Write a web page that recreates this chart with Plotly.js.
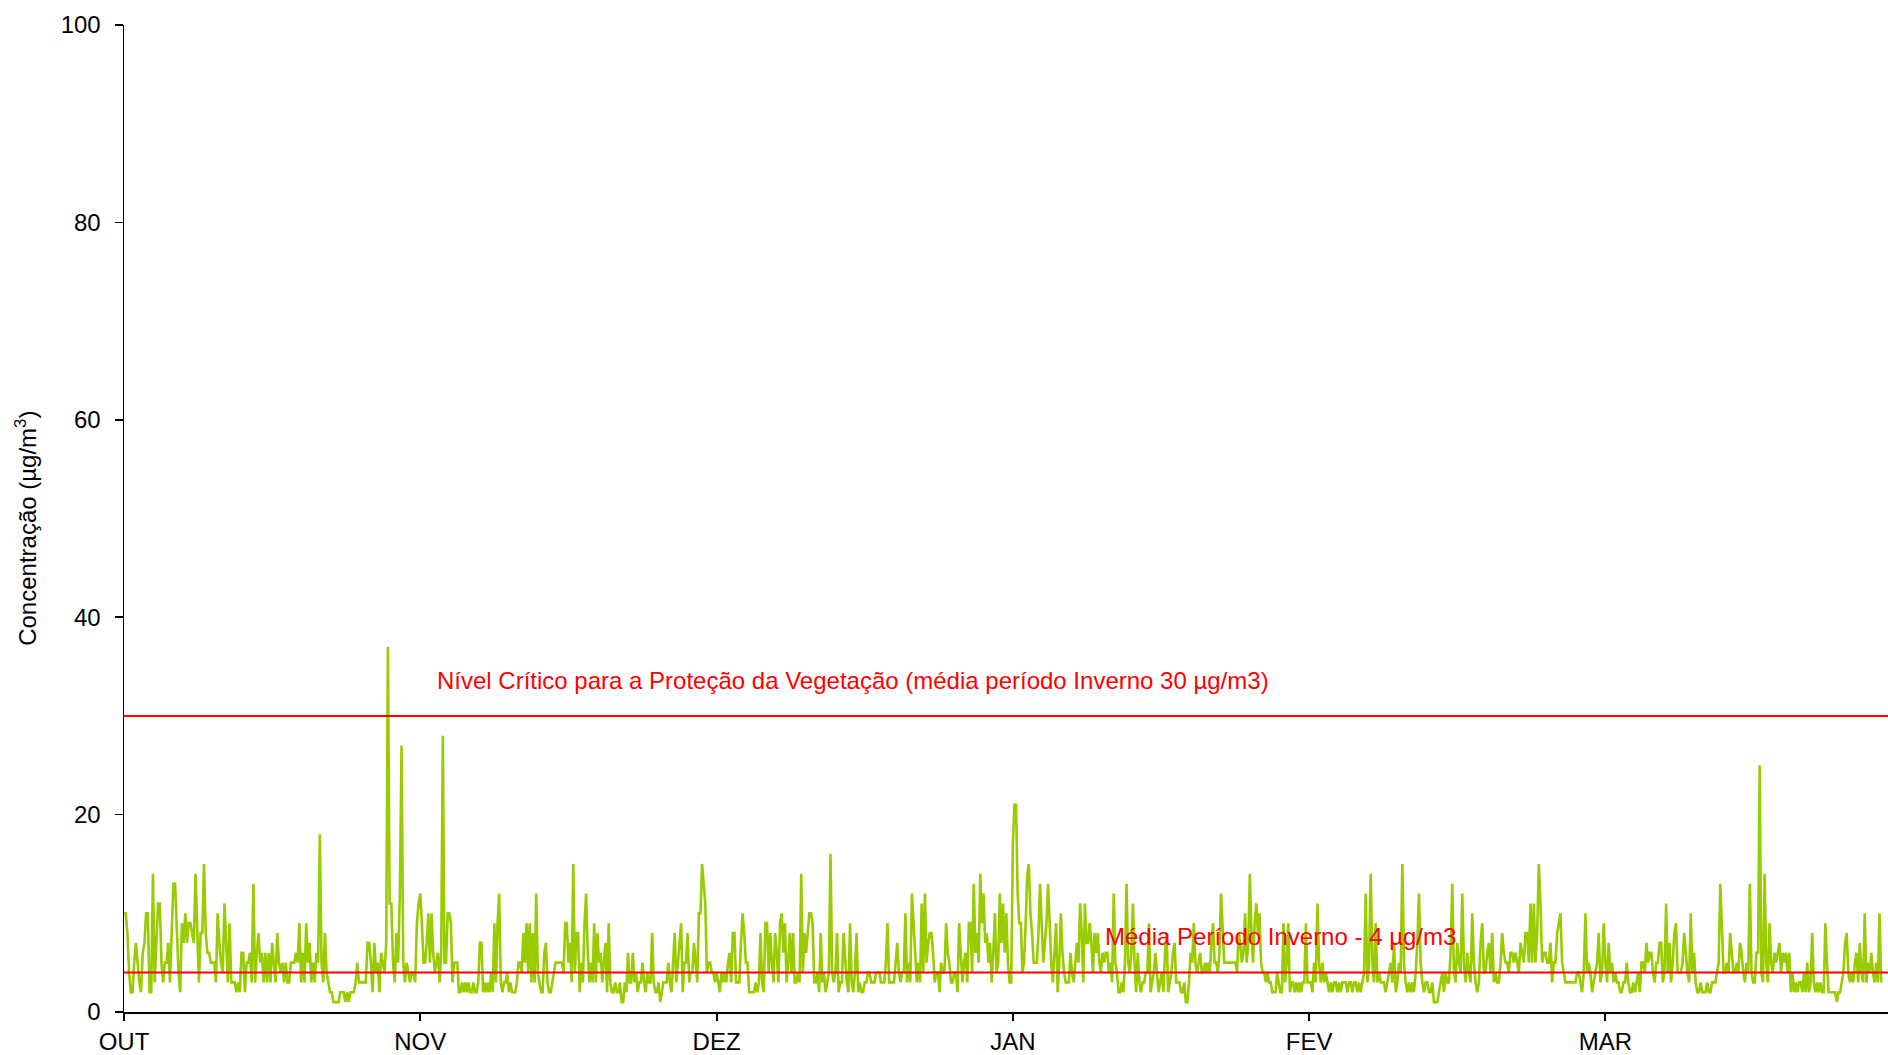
<!DOCTYPE html>
<html>
<head>
<meta charset="utf-8">
<script src="https://cdn.plot.ly/plotly-3.0.1.min.js"></script>
<style>html,body{margin:0;padding:0;background:#fff}#chart{width:1888px;height:1055px}</style>
</head>
<body>
<div id="chart"></div>
<script>
// Tick labels (months of the winter period)
const monthLabels = ['OUT', 'NOV', 'DEZ', 'JAN', 'FEV', 'MAR'];

// Concentration readings (µg/m3), one array per month
const valuesOut = [10,10,8,4,2,2,5,7,5,3,2,6,7,10,10,2,2,14,3,8,11,11,5,3,5,5,7,3,8,13,13,8,4,2,9,7,10,7,9,9,8,7,14,7,3,8,8,15,8,6,6,5,5,5,3,10,7,5,4,11,7,3,9,3,3,3,2,3,2,6,6,2,5,5,6,3,13,3,6,8,5,6,3,6,3,6,3,7,5,3,8,5,4,5,3,5,3,3,5,5,5,6,5,9,3,6,3,9,5,7,3,5,3,6,5,18,5,3,8,4,3,2,2,1,1,1,1,2,2,2,1,2,1,2,2,2,3,5,3,3,3,3,3,7,7,5,2,7,4,5,2,6,5,4,7,37,11,11,5,3,8,5,12,27,5,3,5,4,3,4,4,3,9,11];
const valuesNov = [12,9,5,5,7,10,5,10,6,4,5,6,3,6,28,5,5,10,10,9,3,5,5,5,2,2,3,2,3,2,3,2,2,3,2,2,3,7,7,2,3,2,3,2,4,2,9,3,9,12,3,2,3,3,4,2,3,2,2,2,3,5,5,4,8,5,9,4,9,3,8,3,12,4,3,2,2,6,7,3,2,2,3,4,5,5,5,5,5,4,9,9,5,7,3,15,4,8,8,2,5,3,9,12,6,3,5,3,9,3,8,5,6,3,5,7,2,9,3,2,2,3,2,2,3,1,1,3,2,6,3,3,6,3,4,2,3,3,5,3,2,4,3,3,8,3,2,2,3,1,2,3,3,3,5,3,2,5,8,3,5,7,9,2,5,5,8,3,4,4,7,5,3,10,10,15,13,11,4,5,5,4,4,3];
const valuesDez = [4,3,2,4,3,4,3,5,6,3,8,8,3,3,3,7,10,8,5,5,2,2,2,2,3,2,3,8,3,2,9,9,4,8,5,3,8,6,3,9,10,6,9,3,5,8,4,8,3,3,4,3,14,4,8,6,8,10,10,9,3,3,4,2,8,3,4,2,3,4,16,4,3,4,8,2,3,3,8,5,3,2,9,3,2,4,8,2,3,2,2,3,3,4,4,3,3,3,4,4,4,3,3,3,5,9,3,3,3,3,5,7,4,3,4,4,10,3,5,3,12,9,6,3,5,3,11,4,12,5,7,8,8,6,3,4,4,2,5,4,4,9,6,5,3,3,4,4,2,9,6,3,5,6,3,9,9,4,13,6,8,5,14,9,12,7,8,5,7,3,6,10,4,5,12,7,11,6,10,5,3,3];
const valuesJan = [17,21,21,12,9,9,4,5,9,14,15,10,8,5,5,5,8,13,9,5,7,9,13,8,5,3,6,9,2,5,10,6,4,3,3,3,6,4,3,5,7,5,11,8,3,11,7,7,9,7,4,8,6,8,5,4,6,5,6,6,4,5,3,12,5,4,2,2,3,2,5,13,5,4,6,11,5,2,6,3,2,3,3,4,4,9,2,3,4,6,4,2,3,4,2,6,8,2,3,4,6,7,3,3,3,2,2,3,1,1,3,6,5,9,5,4,5,6,4,4,5,4,5,4,7,9,5,5,4,6,12,8,5,5,5,5,5,5,5,5,4,8,7,5,6,10,5,7,14,8,5,9,11,8,10,5,4,4,3,4,3,3,2,2,2,4,3,2,2,9,3,5,9,2,3,3,2,3,2,3,2,3,3,9,3];
const valuesFev = [3,3,2,5,3,11,5,3,5,3,4,3,2,3,2,3,3,2,3,2,3,3,3,2,3,3,2,3,3,2,3,2,3,4,12,3,5,14,5,3,9,3,4,3,3,3,2,3,4,5,3,7,2,3,5,4,15,5,3,2,3,2,3,2,4,7,12,5,3,2,3,3,2,2,3,1,1,1,2,3,4,2,4,3,3,6,13,4,3,7,5,4,12,5,3,6,4,3,10,5,3,2,3,7,9,4,4,6,7,4,8,3,4,3,3,5,8,6,5,5,4,6,6,5,6,5,4,7,6,5,8,8,5,11,5,11,5,8,15,11,5,6,6,5,5,7,3,5,5,8,9,10,5,4,3,3,3,3,3,3,3,4,4,3,2,4,10,4,5,4,2,3,4,5,8,3,4,9];
const valuesMar = [5,3,7,4,5,3,4,3,3,2,2,3,3,5,3,2,2,3,2,3,4,2,5,5,4,7,5,6,6,4,3,5,5,7,7,3,4,11,4,7,3,5,8,9,4,4,4,5,8,6,4,3,10,4,6,3,2,2,3,2,2,2,3,2,2,3,3,3,4,5,13,9,4,4,5,4,8,6,4,4,5,4,7,6,4,3,5,4,13,4,3,3,6,6,25,4,3,14,5,3,9,5,4,6,5,6,7,4,6,5,6,4,6,2,4,2,3,2,3,3,2,4,2,5,2,3,8,3,2,3,2,3,2,2,9,5,2,2,2,2,2,1,2,2,3,4,7,8,4,3,4,3,5,6,3,7,4,3,10,3,5,4,6,4,3,5,3,10,3];

// Reference levels (µg/m3)
const criticalLevel = 30;   // Nível Crítico para a Proteção da Vegetação
const winterMean = 4;       // Média Período Inverno

const yTicks = [0, 20, 40, 60, 80, 100];
const criticalLabel = 'Nível Crítico para a Proteção da Vegetação (média período Inverno 30 µg/m3)';
const meanLabel = 'Média Período Inverno - 4 µg/m3';
const yTitle = 'Concentração (µg/m<sup>3</sup>)';

// ---- build series: time axis in days from 1 October ----
const totalDays = 182;
const monthSpan = totalDays / monthLabels.length;
const monthly = [valuesOut, valuesNov, valuesDez, valuesJan, valuesFev, valuesMar];
const fullMonths = monthly.slice(0, 5);
const avgStep = fullMonths.reduce((s, a) => s + monthSpan / a.length, 0) / fullMonths.length;

const xs = [], ys = [];
monthly.forEach((arr, m) => {
  const step = (m < 5) ? monthSpan / arr.length : avgStep;
  arr.forEach((v, i) => { xs.push(m * monthSpan + i * step); ys.push(v); });
});
const tickVals = monthLabels.map((_, i) => i * monthSpan);
const xEnd = 180.6;

const FONT = 'Liberation Sans, Arial, Helvetica, sans-serif';

const traces = [
  {
    x: xs, y: ys, type: 'scatter', mode: 'lines',
    line: {color: '#99CC00', width: 2.6}, hoverinfo: 'skip', showlegend: false
  },
  {
    x: [0, totalDays], y: [criticalLevel, criticalLevel], type: 'scatter', mode: 'lines',
    line: {color: '#FF0000', width: 2}, hoverinfo: 'skip', showlegend: false
  },
  {
    x: [0, totalDays], y: [winterMean, winterMean], type: 'scatter', mode: 'lines',
    line: {color: '#FF0000', width: 2}, hoverinfo: 'skip', showlegend: false
  }
];

const layout = {
  width: 1888, height: 1055,
  margin: {l: 124, r: 0, t: 25, b: 43, pad: 0},
  paper_bgcolor: '#ffffff', plot_bgcolor: '#ffffff',
  font: {family: FONT, color: '#000000'},
  showlegend: false,
  xaxis: {
    range: [0, xEnd], tickmode: 'array', tickvals: tickVals, ticktext: monthLabels,
    showgrid: false, zeroline: false, showline: true, linecolor: '#000', linewidth: 2,
    ticks: 'outside', ticklen: 7, tickwidth: 2, tickcolor: '#000',
    tickfont: {family: FONT, size: 24, color: '#000'}, automargin: false,
    fixedrange: true
  },
  yaxis: {
    range: [0, 100], tickmode: 'array', tickvals: yTicks,
    showgrid: false, zeroline: false, showline: true, linecolor: '#000', linewidth: 1.5,
    ticks: 'outside', ticklen: 8, tickwidth: 1.5, tickcolor: '#000',
    ticklabelstandoff: 9,
    tickfont: {family: FONT, size: 24, color: '#000'}, automargin: false,
    fixedrange: true
  },
  annotations: [
    {
      text: yTitle, xref: 'paper', yref: 'paper', x: -0.0553, y: 0.49,
      xanchor: 'center', yanchor: 'middle', textangle: -90, showarrow: false,
      font: {family: FONT, size: 24, color: '#000'}
    },
    {
      text: criticalLabel, xref: 'paper', yref: 'paper', x: 0.1765, y: 0.336,
      xanchor: 'left', yanchor: 'middle', showarrow: false,
      font: {family: FONT, size: 24, color: '#FF0000'}
    },
    {
      text: meanLabel, xref: 'paper', yref: 'paper', x: 0.555, y: 0.076,
      xanchor: 'left', yanchor: 'middle', showarrow: false,
      font: {family: FONT, size: 24, color: '#FF0000'}
    }
  ]
};

Plotly.newPlot('chart', traces, layout, {displayModeBar: false, staticPlot: true});
</script>
</body>
</html>
